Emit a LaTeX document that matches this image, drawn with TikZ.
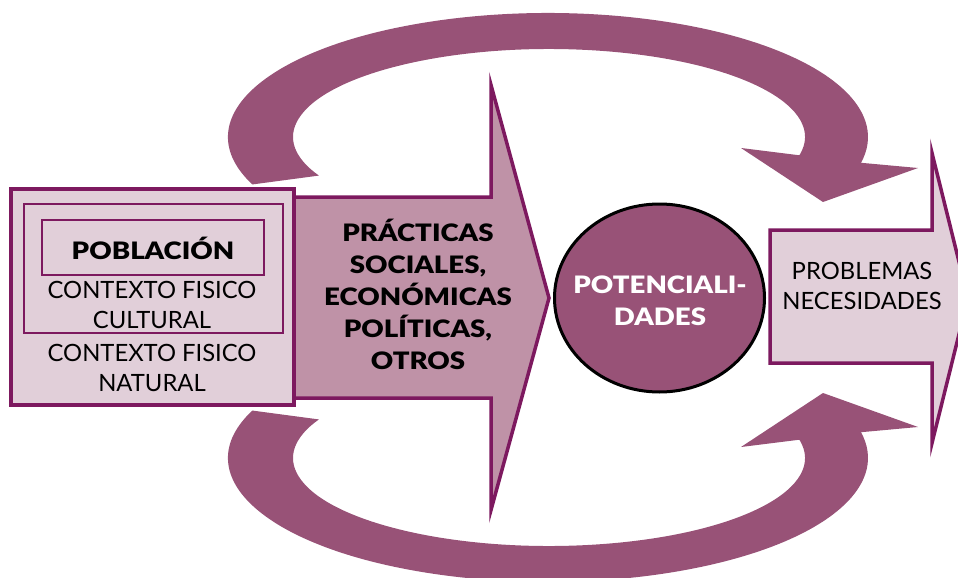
\documentclass[tikz,border=0pt]{standalone}
\usepackage{fontspec}
\setmainfont{Lato}
\newfontfamily\headfont[FakeStretch=1.15]{Lato Black}
\usetikzlibrary{calc}
\definecolor{figP}{RGB}{152,82,119}
\definecolor{figM}{RGB}{125,25,95}
\definecolor{figL}{RGB}{225,207,217}
\definecolor{figA}{RGB}{191,146,167}
\tikzset{
  boxline/.style={draw=figM, line width=2pt},
  plaintxt/.style={font=\fontsize{23.8}{29.5}\selectfont, align=center, text=black},
  boldtxt/.style={font=\headfont\fontsize{24}{32}\selectfont, align=center}
}
\begin{document}
\begin{tikzpicture}[x=1pt, y=-1pt]
\clip (0,0) rectangle (958,578);
% ===== feedback arcs: top one, bottom one mirrored =====
\foreach \sy/\oy in {1/0, -1/595}{
\begin{scope}[shift={(0,\oy)}, yscale=\sy]
\fill[figP] ($(548,137)+(157.5:320 and 124)$) arc[start angle=157.5, end angle=372, x radius=320, y radius=124]
  -- (918,168) -- (823,202) -- (741,148)
  -- ($(549,137)+(372:256 and 88)$) arc[start angle=372, end angle=154, x radius=256, y radius=88] -- cycle;
\end{scope}
}
% ===== big arrow =====
\draw[figM, fill=figA, line width=3.5pt] (295,197) -- (491,197) -- (491,85) -- (549,298) -- (491,510) -- (491,398) -- (295,398);
\node[boldtxt] (practicas) at (418,294) {PRÁCTICAS\\SOCIALES,\\ECONÓMICAS\\POLÍTICAS,\\OTROS};
% ===== left box =====
\draw[figM, fill=figL, line width=3.5pt] (11,189) rectangle (294,405);
\draw[boxline] (24,204) rectangle (283,333);
\draw[boxline] (42,220) rectangle (264,275);
\node[boldtxt] (pobl) at (153,248) {POBLACIÓN};
\node[plaintxt] (ctxcult) at (152,305) {CONTEXTO FISICO\\CULTURAL};
\node[plaintxt] (ctxnat) at (152,368) {CONTEXTO FISICO\\NATURAL};
% ===== circle =====
\draw[black, fill=figP, line width=3pt] (659.5,298) ellipse [x radius=105, y radius=94];
\node[boldtxt, text=white] (potenc) at (660,301) {POTENCIALI-\\DADES};
% ===== right arrow =====
\draw[figM, fill=figL, line width=3.5pt] (770,230) -- (932,230) -- (932,153) -- (968,298) -- (932,443) -- (932,363) -- (770,363) -- cycle;
\node[plaintxt] (probl) at (862,286) {PROBLEMAS\\NECESIDADES};
\end{tikzpicture}
\end{document}
